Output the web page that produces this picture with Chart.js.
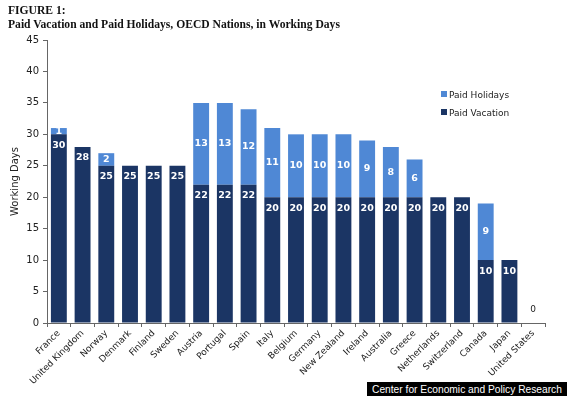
<!DOCTYPE html>
<html>
<head>
<meta charset="utf-8">
<script src="https://cdn.jsdelivr.net/npm/chart.js@4.4.0/dist/chart.umd.min.js"></script>
<style>
    body { margin: 0; background: #fff; }
    #wrap { position: relative; width: 570px; height: 399px; }
    #title { position: absolute; left: 8px; top: 4px; font: bold 11.6px "Liberation Serif", serif; line-height: 14px; color: #111; }
    .leg { position: absolute; left: 441px; font: 9px "DejaVu Sans", sans-serif; color: #222; line-height: 10px; }
    .leg span { display: inline-block; width: 6px; height: 6px; margin-right: 2px; vertical-align: 1px; }
    #footer { position: absolute; left: 367px; top: 382px; width: 200px; height: 14px; background: #000; color: #fff;
              font: 11px "Liberation Sans", sans-serif; line-height: 14px; white-space: nowrap; overflow: hidden; }
    #footer span { display: inline-block; transform: scaleX(0.93); transform-origin: 0 0; margin-left: 5px; }
</style>
</head>
<body>
<div id="wrap">
    <canvas id="chart" width="570" height="399"></canvas>
    <div id="title">FIGURE 1:<br>Paid Vacation and Paid Holidays, OECD Nations, in Working Days</div>
    <div class="leg" style="top:90px"><span style="background:#4f88d5"></span>Paid Holidays</div>
    <div class="leg" style="top:108px"><span style="background:#1b3564"></span>Paid Vacation</div>
    <div id="footer"><span>Center for Economic and Policy Research</span></div>
</div>
<script>
// chart data
const countries = ['France', 'United Kingdom', 'Norway', 'Denmark', 'Finland', 'Sweden', 'Austria', 'Portugal',
    'Spain', 'Italy', 'Belgium', 'Germany', 'New Zealand', 'Ireland', 'Australia', 'Greece', 'Netherlands',
    'Switzerland', 'Canada', 'Japan', 'United States'];
const paidVacation = [30, 28, 25, 25, 25, 25, 22, 22, 22, 20, 20, 20, 20, 20, 20, 20, 20, 20, 10, 10, 0];
const paidHolidays = [1, 0, 2, 0, 0, 0, 13, 13, 12, 11, 10, 10, 10, 9, 8, 6, 0, 0, 9, 0, 0];

const navy = '#1b3564';
const lightBlue = '#4f88d5';

// draws the numbers inside the bars
const barLabels = {
    id: 'barLabels',
    afterDatasetsDraw(chart) {
        const ctx = chart.ctx;
        ctx.save();
        ctx.textAlign = 'center';
        ctx.textBaseline = 'middle';
        chart.data.datasets.forEach((ds, i) => {
            const meta = chart.getDatasetMeta(i);
            meta.data.forEach((bar, j) => {
                const v = ds.data[j];
                if (i === 0) {
                    if (v === 0) {
                        // only the US has nothing at all
                        if (paidHolidays[j] === 0) {
                            ctx.font = '9px "DejaVu Sans"';
                            ctx.fillStyle = '#222';
                            ctx.fillText('0', bar.x, bar.base - 13);
                        }
                        return;
                    }
                    ctx.font = 'bold 9.5px "DejaVu Sans"';
                    ctx.fillStyle = '#fff';
                    ctx.fillText(String(v), bar.x, bar.y + 11);
                } else if (v > 0) {
                    ctx.font = 'bold 9.5px "DejaVu Sans"';
                    ctx.fillStyle = '#fff';
                    ctx.fillText(String(v), bar.x, (bar.y + bar.base) / 2);
                }
            });
        });
        ctx.restore();
    }
};

new Chart(document.getElementById('chart').getContext('2d'), {
    type: 'bar',
    data: {
        labels: countries,
        datasets: [
            { label: 'Paid Vacation', data: paidVacation, backgroundColor: navy, categoryPercentage: 1, barPercentage: 0.67 },
            { label: 'Paid Holidays', data: paidHolidays, backgroundColor: lightBlue, categoryPercentage: 1, barPercentage: 0.67 }
        ]
    },
    options: {
        responsive: false,
        animation: false,
        devicePixelRatio: 1,
        layout: { padding: { top: 40, right: 25, left: 0, bottom: 0 } },
        plugins: { legend: { display: false }, tooltip: { enabled: false } },
        scales: {
            x: {
                stacked: true,
                grid: { drawOnChartArea: false, tickLength: 4, color: '#666' },
                border: { color: '#666' },
                ticks: {
                    autoSkip: false, maxRotation: 45, minRotation: 45, padding: 1,
                    color: '#222', font: { family: 'DejaVu Sans', size: 9 }
                },
                afterFit: function (scale) { scale.height = 76; }
            },
            y: {
                stacked: true,
                min: 0, max: 45,
                grid: { drawOnChartArea: false, tickLength: 4, color: '#666' },
                border: { color: '#666' },
                ticks: { stepSize: 5, padding: 4, color: '#222', font: { family: 'DejaVu Sans', size: 10 } },
                title: {
                    display: true, text: 'Working Days', color: '#222',
                    font: { family: 'DejaVu Sans', size: 10 }, padding: { top: 9, bottom: 0 }
                },
                afterFit: function (scale) { scale.width = 47; }
            }
        }
    },
    plugins: [barLabels]
});
</script>
</body>
</html>
